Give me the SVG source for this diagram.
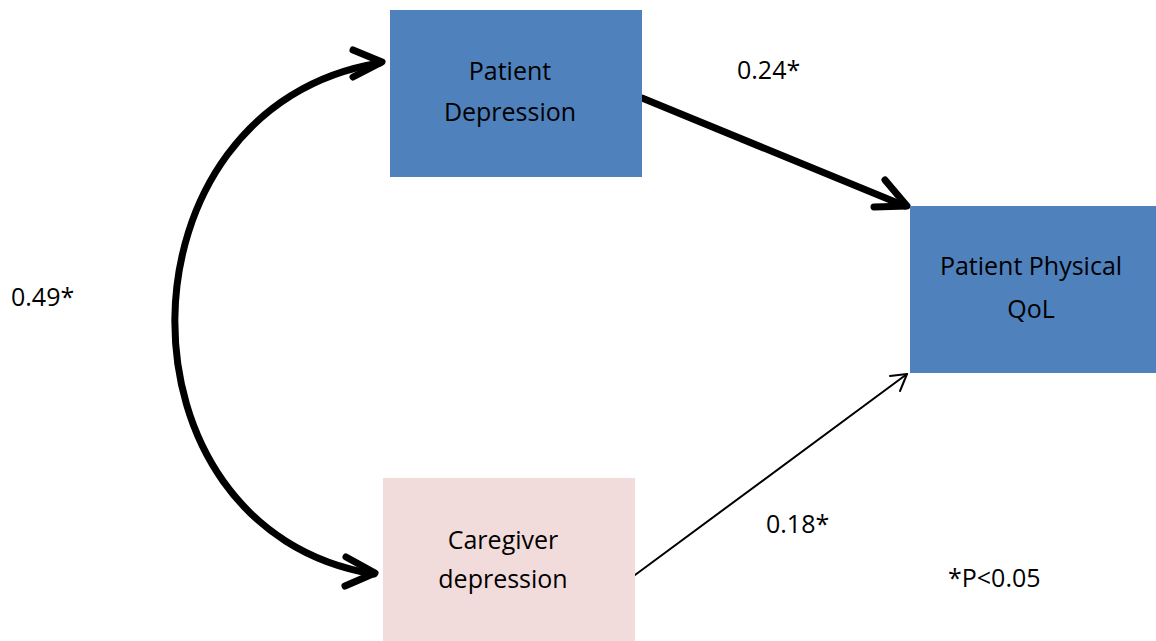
<svg xmlns="http://www.w3.org/2000/svg" width="1156" height="641" viewBox="0 0 1156 641">
<style>
text{font-family:"Open Sans","Liberation Sans",sans-serif;font-size:25px;fill:#000}
.c{text-anchor:middle}
.blue{fill:#4f81bd}
.pink{fill:#f2dcdb}
.thick{fill:none;stroke:#000;stroke-width:7;stroke-linecap:round;stroke-linejoin:round}
.thin{fill:none;stroke:#000;stroke-width:2;stroke-linecap:round;stroke-linejoin:round}
</style>
<rect width="1156" height="641" fill="#fff"/>
<g id="connectors">
<path class="thick" d="M380,63 C110,106 105,530 374,574"/>
<path class="thick" d="M353,50 L382,62 L353,77"/>
<path class="thick" d="M346,557 L375,573 L345,586"/>
<path class="thick" d="M642,98 L905,206"/>
<path class="thick" d="M885,180 L907,206 L874,207"/>
<path class="thin" d="M635,575 L907,374"/>
<path class="thin" d="M890,376 L907,374 L900,391"/>
<text x="737" y="79">0.24*</text>
<text x="11" y="306">0.49*</text>
<text x="766" y="533">0.18*</text>
</g>
<g id="node-patient-depression">
<rect class="blue" x="390" y="10" width="252" height="167"/>
<text class="c" x="510" y="80">Patient</text>
<text class="c" x="510" y="121">Depression</text>
</g>
<g id="node-patient-qol">
<rect class="blue" x="910" y="206" width="246" height="167"/>
<text class="c" x="1031" y="275">Patient Physical</text>
<text class="c" x="1031" y="318">QoL</text>
</g>
<g id="node-caregiver-depression">
<rect class="pink" x="383" y="478" width="252" height="163"/>
<text class="c" x="503" y="549">Caregiver</text>
<text class="c" x="503" y="588">depression</text>
</g>
<g id="note">
<text x="948" y="587">*P&lt;0.05</text>
</g>
</svg>
